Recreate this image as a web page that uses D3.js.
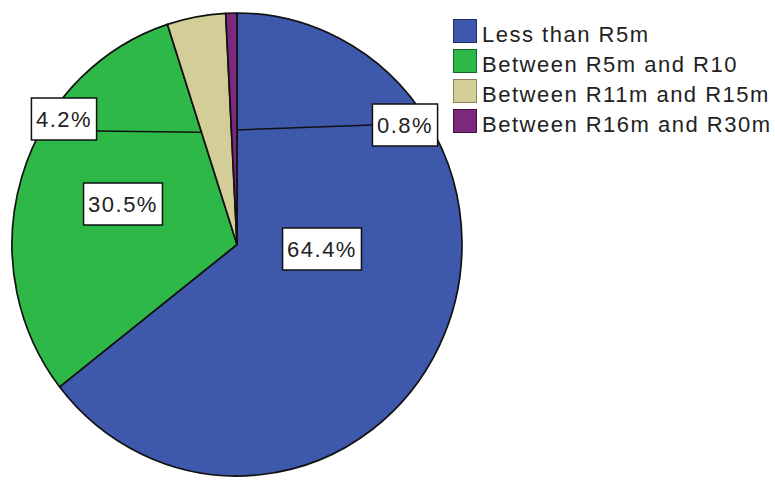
<!DOCTYPE html>
<html>
<head>
<meta charset="utf-8">
<script src="https://cdn.jsdelivr.net/npm/d3@7"></script>
<style>
  html, body { margin: 0; padding: 0; background: #fff; }
  svg { display: block; }
  text { font-family: "Liberation Sans", Arial, sans-serif; fill: #222; letter-spacing: 1.5px; }
</style>
</head>
<body>
<svg id="chart" width="775" height="480"></svg>
<script>
// Share of projects by value band
const categories = ["Less than R5m", "Between R5m and R10", "Between R11m and R15m", "Between R16m and R30m"];
const values = [64.4, 30.5, 4.2, 0.8];
const colors = ["#3E58AC", "#2EB848", "#D3CE97", "#7C287D"];
const borders = ["#1F2F66", "#17652A", "#8C875A", "#3F1240"];

// Label box centres and, where needed, a leader line that runs to a slice edge
const labelLayout = [
  { x: 322, y: 249, leader: null },
  { x: 123, y: 204, leader: null },
  { x: 64,  y: 119, leader: { edge: "start", r: 0.51, side: "right" } },
  { x: 405, y: 125, leader: { edge: "end",   r: 0.495, side: "left" } }
];

const svg = d3.select("#chart");
const cx = 237, cy = 244.5, rx = 225, ry = 231.5;

const pie = d3.pie().sort(null).value(d => d)(values);
const arc = d3.arc().innerRadius(0).outerRadius(rx);

const g = svg.append("g")
  .attr("transform", `translate(${cx},${cy}) scale(1,${ry / rx})`);

g.selectAll("path.slice")
  .data(pie)
  .join("path")
  .attr("class", "slice")
  .attr("d", arc)
  .attr("fill", (d, i) => colors[i])
  .attr("stroke", "#111")
  .attr("stroke-width", 1.7)
  .attr("stroke-linejoin", "round")
  .attr("vector-effect", "non-scaling-stroke");

// point on the page for an angle (d3 convention) and a radius fraction
const toPage = (a, f) => [cx + Math.sin(a) * rx * f, cy - Math.cos(a) * ry * f];

const fmt = v => v.toFixed(1) + "%";
const labels = svg.append("g");

pie.forEach((d, i) => {
  const L = labelLayout[i];
  const grp = labels.append("g");
  const t = grp.append("text")
    .attr("x", L.x)
    .attr("y", L.y)
    .attr("text-anchor", "middle")
    .attr("dominant-baseline", "central")
    .attr("font-size", 22)
    .text(fmt(values[i]));
  const bb = t.node().getBBox();
  const w = bb.width + 9, h = 42;
  const bx = L.x - w / 2, by = L.y - h / 2;
  if (L.leader) {
    const a = L.leader.edge === "start" ? d.startAngle : d.endAngle;
    const p = toPage(a, L.leader.r);
    const sx = L.leader.side === "right" ? bx + w : bx;
    labels.insert("line", ":first-child")
      .attr("x1", sx).attr("y1", L.y + 12 * (L.leader.side === "right" ? 1 : 0))
      .attr("x2", p[0]).attr("y2", p[1])
      .attr("stroke", "#111").attr("stroke-width", 1.5);
  }
  grp.insert("rect", "text")
    .attr("x", bx).attr("y", by)
    .attr("width", w).attr("height", h)
    .attr("fill", "#fff")
    .attr("stroke", "#111")
    .attr("stroke-width", 1.5);
});

// Legend
const legend = svg.append("g").attr("transform", "translate(453,19)");
const rows = legend.selectAll("g")
  .data(categories)
  .join("g")
  .attr("transform", (d, i) => `translate(0,${i * 30})`);
rows.append("rect")
  .attr("x", 0.5).attr("y", 0.5)
  .attr("width", 23).attr("height", 23)
  .attr("fill", (d, i) => colors[i])
  .attr("stroke", (d, i) => borders[i])
  .attr("stroke-width", 1);
rows.append("text")
  .attr("x", 29)
  .attr("y", 23)
  .attr("font-size", 22)
  .text(d => d);
</script>
</body>
</html>
